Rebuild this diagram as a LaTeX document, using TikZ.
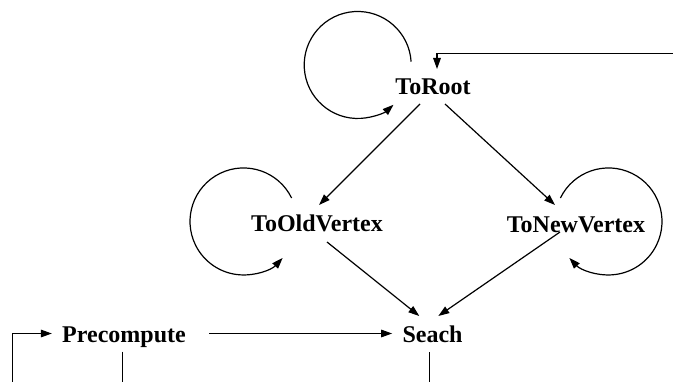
\documentclass[tikz,border=0pt]{standalone}
\usepackage{fontspec}
\setmainfont{Liberation Serif}
\usetikzlibrary{arrows.meta,calc}
\tikzset{>={Triangle[length=5.5pt,width=3.8pt]},every node/.style={font=\bfseries\fontsize{12}{14}\selectfont,inner sep=0pt,anchor=base},flow/.style={line width=.6pt,->},edge/.style={line width=.6pt}}

\begin{document}
\begin{tikzpicture}[x=.5pt,y=.5pt]
\clip (0,0) rectangle (673,381);
\node (root) at (433,286){ToRoot};
\node (old) at (317,149.4){ToOldVertex};\node (new) at (576,149){ToNewVertex};
\node (pre) at (124,39){Precompute};\node (seach) at (432.5,39){Seach};
\coordinate (low) at (0,-10);\coordinate (rim) at (690,327.7);\coordinate (lowL) at (12.3,-10);
% self loops
\draw[flow] ($(root.base)+(-21.9,33.3)$) arc[start angle=3.5,end angle=312,radius=53.5];
\draw[flow] ($(old.base)+(-25.4,33.6)$) arc[start angle=26,end angle=317,radius=53.5];
\draw[flow] ($(new.base)+(-15.6,34)$) arc[start angle=154,end angle=-137,radius=53.5];
% diamond
\draw[flow] ($(root.base)+(-13,-9)$) -- ($(old.base)+(2,26.6)$);
\draw[flow] ($(root.base)+(12,-9)$) -- ($(new.base)+(-21,27)$);
\draw[flow] ($(old.base)+(10,-10.4)$) -- ($(seach.base)+(-13.2,26)$);
\draw[flow] ($(new.base)+(-16,0)$) -- ($(seach.base)+(5.8,26)$);
\draw[flow] ($(pre.base east)+(23,8.5)$) -- ($(seach.base west)+(-10,8.5)$);
% cut ends
\draw[flow] (rim) -| ($(root.base)+(4,26)$);
\draw[flow] (lowL) |- ($(pre.base west)+(-10,8.5)$);
\draw[edge] ($(pre.base)+(-1.3,-9.5)$) coordinate (p) -- (p |- low);
\draw[edge] ($(seach.base)+(-3.2,-10)$) coordinate (s) -- (s |- low);
\end{tikzpicture}
\end{document}
